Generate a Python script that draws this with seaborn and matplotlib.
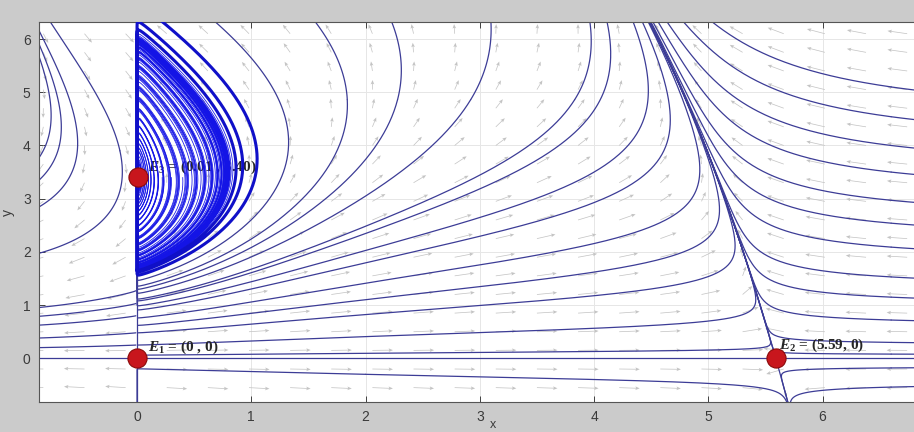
import numpy as np
import matplotlib
matplotlib.use("Agg")
import matplotlib.pyplot as plt
import seaborn as sns

# equilibria, as written in the labels
eq_labels = [r"$E_1$ = (0 , 0)", r"$E_2$ = (5.59, 0)", r"$E_3$ = (0.01 , 3.40)"]
eq_x = [0.0, 5.59, 0.01]
eq_y = [0.0, 0.0, 3.40]
eq_label_x = [0.10, 5.62, 0.10]
eq_label_y = [0.21, 0.25, 3.58]

x_ticks = [0, 1, 2, 3, 4, 5, 6]
y_ticks = [0, 1, 2, 3, 4, 5, 6]
XLIM = (-0.858, 6.80)
YLIM = (-0.82, 6.32)

# model: prey x (logistic), predator y, saturating response
r = 1.0
K = eq_x[1]
b = 0.32
c = 0.26
a = r * (1 - eq_x[2] / K) * (1 + b * eq_x[2] ** 2) / eq_y[2]
d = c * eq_x[2] / (1 + b * eq_x[2] ** 2)

# points the trajectories go through
left_c_x = [-0.80, -0.68, -0.52, -0.15]
left_c_y = [4.0, 4.0, 4.0, 3.9]
left_low_x = -0.01
left_low_y = [0.25, 0.48, 0.80, 1.03, 1.27]
fan_top_x = [1.30, 1.84, 2.28, 2.92, 3.83, 4.45]
fan_top_y = [4.50, 4.86, 4.86, 4.86, 4.86, 4.60]
fan_low_x = 0.01
fan_low_y = [1.08, 0.91, 0.76, 0.62, 0.48, 0.25, 0.06]
right_x = 6.6
right_y = [0.08, 0.3, 0.72, 1.15, 1.53, 2.09, 2.54, 2.97, 3.5, 4.0, 4.54, 5.1]
below_x = [2.0, 6.6, 6.6]
below_y = [-0.3, -0.18, -0.54]
spiral_outer = (0.85, 3.90)
spiral_inner_x = [0.03, 0.06, 0.10, 0.15, 0.22, 0.30, 0.40, 0.52]
spiral_inner_y = [3.40] * len(spiral_inner_x)

# px per data unit, used for arc-length stepping
SX = 875 / (XLIM[1] - XLIM[0])
SY = 380 / (YLIM[1] - YLIM[0])


def field(u, v, sx, sy):
    x = sx * np.exp(u)
    y = sy * np.exp(v)
    g = 1.0 / (1.0 + b * x * x)
    F = r * (1 - x / K) - a * y * g
    G = c * x * g - d
    n = np.hypot(x * F * SX, y * G * SY) + 1e-15
    return F / n, G / n


def trace(xs, ys, direction=1, nsteps=4000, h=1.5, box=None):
    xs = np.atleast_1d(np.asarray(xs, float))
    ys = np.atleast_1d(np.asarray(ys, float))
    if box is None:
        box = (XLIM[0] - 0.1, XLIM[1] + 0.1, YLIM[0] - 0.1, YLIM[1] + 0.1)
    sx, sy = np.sign(xs), np.sign(ys)
    u, v = np.log(np.abs(xs)), np.log(np.abs(ys))
    hs = h * direction
    px, py = [xs.copy()], [ys.copy()]
    alive = np.ones(len(xs), bool)
    end = np.full(len(xs), nsteps)
    for i in range(nsteps):
        k1u, k1v = field(u, v, sx, sy)
        k2u, k2v = field(u + hs / 2 * k1u, v + hs / 2 * k1v, sx, sy)
        k3u, k3v = field(u + hs / 2 * k2u, v + hs / 2 * k2v, sx, sy)
        k4u, k4v = field(u + hs * k3u, v + hs * k3v, sx, sy)
        u = np.where(alive, u + hs / 6 * (k1u + 2 * k2u + 2 * k3u + k4u), u)
        v = np.where(alive, v + hs / 6 * (k1v + 2 * k2v + 2 * k3v + k4v), v)
        x, y = sx * np.exp(u), sy * np.exp(v)
        px.append(x)
        py.append(y)
        out = alive & ((x < box[0]) | (x > box[1]) | (y < box[2]) | (y > box[3]))
        end[out] = i + 1
        alive &= ~out
        if not alive.any():
            break
    px, py = np.array(px), np.array(py)
    return [(px[:end[j] + 1, j], py[:end[j] + 1, j]) for j in range(len(xs))]


# two-way curves through interior points, one-way curves leaving the axes
both_x = left_c_x + fan_top_x + [right_x] * len(right_y) + below_x
both_y = left_c_y + fan_top_y + right_y + below_y
fwd_x = [left_low_x] * len(left_low_y) + [fan_low_x] * len(fan_low_y) + [K, K]
fwd_y = left_low_y + fan_low_y + [0.003, -0.003]
paths = trace(both_x, both_y, 1) + trace(both_x, both_y, -1) + trace(fwd_x, fwd_y, 1)

# the spiral round E3, traced from its outer loop and from inside it
far = (-5, 20, -5, 500)
spirals = trace([spiral_outer[0]] + spiral_inner_x, [spiral_outer[1]] + spiral_inner_y,
                -1, nsteps=22000, h=2.0, box=far)
outer_fwd = trace([spiral_outer[0]], [spiral_outer[1]], 1, nsteps=3000, h=1.5)[0]
outer_back = spirals[0]
stop = np.argmax(outer_back[0] < 0.004)
edge_x = np.concatenate([outer_back[0][:stop + 1][::-1], outer_fwd[0]])
edge_y = np.concatenate([outer_back[1][:stop + 1][::-1], outer_fwd[1]])

# quiver grid
qx, qy = np.meshgrid(np.arange(-7, 15) * 0.36 + 1.70, 6.1 - np.arange(20) * 0.35)
qg = 1.0 / (1.0 + b * qx ** 2)
qu = qx * (r * (1 - qx / K) - a * qy * qg)
qv = qy * (c * qx * qg - d)
qlen = np.hypot(qu, qv)
qu, qv = qu / qlen * 0.18, qv / qlen * 0.18

sns.set_style("ticks")
plt.rcParams["font.family"] = ["Liberation Sans", "DejaVu Sans"]
plt.rcParams["mathtext.fontset"] = "custom"
plt.rcParams["mathtext.it"] = "Liberation Serif:italic:bold"
plt.rcParams["mathtext.rm"] = "Liberation Serif:bold"
plt.rcParams["mathtext.bf"] = "Liberation Serif:bold"

fig = plt.figure(figsize=(9.14, 4.32), dpi=100, facecolor="#cbcbcb")
ax = fig.add_axes([39 / 914, 30 / 432, 875 / 914, 380 / 432])
ax.set_facecolor("white")

ax.quiver(qx, qy, qu, qv, color="#c4c4c4", angles="xy", scale_units="xy", scale=1,
          units="xy", width=0.008, headwidth=5, headlength=6, headaxislength=5, zorder=1)

ax.axhline(eq_y[0], color="#3c3c96", lw=0.9, zorder=2)
ax.axvline(eq_x[0], color="#3c3c96", lw=0.9, zorder=2)
for px_, py_ in paths:
    ax.plot(px_, py_, color="#3c3c96", lw=0.9, zorder=2)

for i, txt in enumerate(eq_labels):
    ax.text(eq_label_x[i], eq_label_y[i], txt, fontsize=11, family="Liberation Serif",
            weight="bold", ha="left", va="center", zorder=3)

for sx_, sy_ in spirals:
    ax.plot(sx_, sy_, color="#1414e6", lw=0.55, zorder=4)
ax.plot(edge_x, edge_y, color="#1010c8", lw=2.2, zorder=4)

sns.scatterplot(x=eq_x, y=eq_y, s=190, color="#c8161d", edgecolor="#8a0a0a",
                linewidth=0.8, ax=ax, zorder=6, legend=False)

ax.set_xlim(*XLIM)
ax.set_ylim(*YLIM)
ax.set_xticks(x_ticks)
ax.set_yticks(y_ticks)
ax.grid(True, color="#e6e6e6", lw=0.7)
ax.set_axisbelow(True)
ax.tick_params(direction="in", length=4, width=0.7, color="#404040", labelcolor="#3a3a3a",
               labelsize=10, top=True, pad=6)
for side in ["left", "bottom", "top"]:
    ax.spines[side].set_color("#555555")
    ax.spines[side].set_linewidth(0.8)
ax.spines["right"].set_visible(False)
ax.set_xlabel("x", fontsize=9, color="#3a3a3a")
ax.xaxis.set_label_coords(0.519, -0.045)
ax.set_ylabel("y", fontsize=10, color="#3a3a3a", labelpad=6)

fig.savefig("out.png", dpi=100, facecolor=fig.get_facecolor())
